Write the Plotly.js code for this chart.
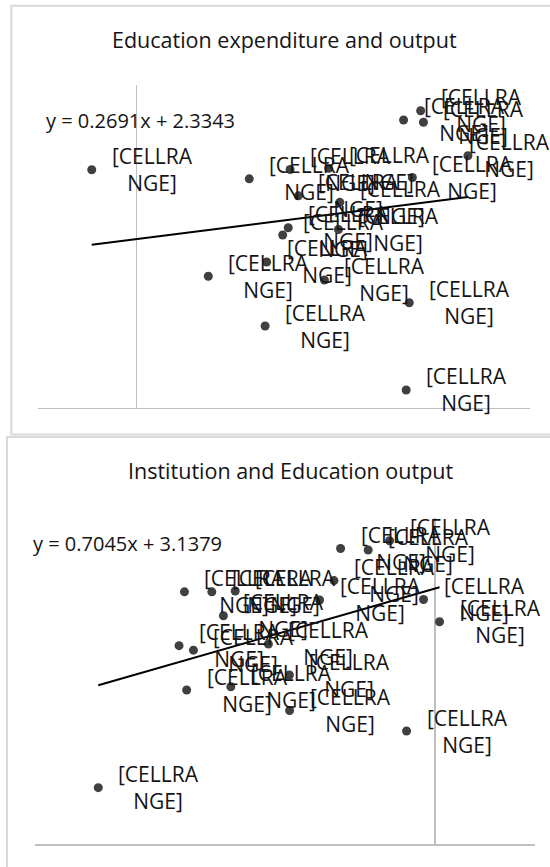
<!DOCTYPE html>
<html><head><meta charset="utf-8">
<script src="https://cdn.plot.ly/plotly-3.0.1.min.js"></script>
<style>html,body{margin:0;padding:0;background:#fff}#chart{width:550px;height:867px}</style>
</head><body><div id="chart"></div>
<script>
// ---------- Data ----------
const title1 = 'Education expenditure and output';
const exp1X = [-0.292, 0.731, 0.996, 1.247, 1.050, 1.319, 1.733, 1.844, 1.862, 1.790,
               2.151, 0.984, 0.948, 1.310, 0.844, 0.465, 1.219, 1.770, 0.834, 1.750];
const exp1Y = [3.291, 3.166, 3.295, 3.312, 2.931, 2.841, 3.980, 4.108, 3.949, 3.184,
               3.486, 2.489, 2.389, 2.465, 2.016, 1.818, 1.767, 1.452, 1.130, 0.245];
const trend1 = {slope: 0.2691, intercept: 2.3343};

const title2 = 'Institution and Education output';
const inst2X = [-0.472, -0.334, -0.227, -0.505, -1.253, -1.116, -0.999, -0.577, -0.057, 0.023,
                -1.058, -1.280, -1.208, -0.833, -0.728, -1.242, -1.021, -0.727, -0.142, -1.684];
const inst2Y = [3.629, 3.611, 3.725, 3.236, 3.098, 3.098, 3.108, 2.998, 3.004, 2.731,
                2.804, 2.437, 2.382, 2.458, 2.077, 1.893, 1.933, 1.642, 1.390, 0.695];
const trend2 = {slope: 0.7045, intercept: 3.1379};

const pointLabel = '[CELLRA<br>NGE]';

// ---------- Layout geometry (pixels) ----------
const W = 550, H = 867;
const px = v => v / W, py = v => 1 - v / H;
const plot1 = {x0: 38.3, x1: 530, y0: 85, y1: 407.7, xr: [-0.639, 2.554], yr: [0, 4.464]};
const plot2 = {x0: 35.1, x1: 534.9, y0: 518.3, y1: 844.3, xr: [-2, 0.5], yr: [0, 4]};

const FONT = '"Open Sans", "Liberation Sans", sans-serif';
const textColor = '#141414';

function toPx(p, x) { return p.x0 + (x - p.xr[0]) / (p.xr[1] - p.xr[0]) * (p.x1 - p.x0); }

function trendTrace(xs, t, xa, ya) {
  const xmin = Math.min(...xs), xmax = Math.max(...xs);
  return {x: [xmin, xmax], y: [t.slope * xmin + t.intercept, t.slope * xmax + t.intercept],
          mode: 'lines', line: {color: '#000', width: 2}, xaxis: xa, yaxis: ya,
          hoverinfo: 'skip', showlegend: false};
}
function pointTrace(xs, ys, xa, ya) {
  return {x: xs, y: ys, mode: 'markers', type: 'scatter', xaxis: xa, yaxis: ya,
          marker: {color: '#404040', size: 9}, showlegend: false};
}
function labelAnns(xs, ys, xref, yref, p) {
  const labelW = 80, rightLimit = 547;
  return xs.map((x, i) => {
    const ppx = toPx(p, x);
    const shift = Math.min(18, rightLimit - labelW - ppx);
    return {x: x, y: ys[i], xref: xref, yref: yref, text: pointLabel, showarrow: false,
            xanchor: 'left', yanchor: 'middle', xshift: shift, align: 'center',
            font: {family: FONT, size: 21, color: textColor}};
  });
}
function fmt(t) { return 'y = ' + t.slope.toFixed(4) + 'x + ' + t.intercept.toFixed(4); }

const data = [
  trendTrace(exp1X, trend1, 'x', 'y'),
  pointTrace(exp1X, exp1Y, 'x', 'y'),
  trendTrace(inst2X, trend2, 'x2', 'y2'),
  pointTrace(inst2X, inst2Y, 'x2', 'y2')
];

function axis(dom, range, isX) {
  return {domain: dom, range: range, showgrid: false, showticklabels: false, ticks: '',
          zeroline: isX, zerolinecolor: '#bfbfbf', zerolinewidth: 1.5,
          showline: isX, linecolor: '#bfbfbf', linewidth: 1.5, fixedrange: true};
}

const annotations = [
  {text: title1, x: px(284), y: py(40), xref: 'paper', yref: 'paper', showarrow: false,
   xanchor: 'center', yanchor: 'middle', font: {family: FONT, size: 21.5, color: textColor}},
  {text: title2, x: px(290), y: py(470), xref: 'paper', yref: 'paper', showarrow: false,
   xanchor: 'center', yanchor: 'middle', font: {family: FONT, size: 21.5, color: textColor}},
  {text: fmt(trend1), x: px(44), y: py(120), xref: 'paper', yref: 'paper', showarrow: false,
   xanchor: 'left', yanchor: 'middle', font: {family: FONT, size: 20, color: textColor}},
  {text: fmt(trend2), x: px(30.5), y: py(543.3), xref: 'paper', yref: 'paper', showarrow: false,
   xanchor: 'left', yanchor: 'middle', font: {family: FONT, size: 20, color: textColor}},
  ...labelAnns(exp1X, exp1Y, 'x', 'y', plot1),
  ...labelAnns(inst2X, inst2Y, 'x2', 'y2', plot2)
];

const layout = {
  width: W, height: H, margin: {l: 0, r: 0, t: 0, b: 0},
  paper_bgcolor: '#fff', plot_bgcolor: 'rgba(0,0,0,0)', showlegend: false,
  xaxis: axis([px(plot1.x0), px(plot1.x1)], plot1.xr, true),
  yaxis: Object.assign(axis([py(plot1.y1), py(plot1.y0)], plot1.yr, false), {anchor: 'x'}),
  xaxis2: Object.assign(axis([px(plot2.x0), px(plot2.x1)], plot2.xr, true), {anchor: 'y2'}),
  yaxis2: Object.assign(axis([py(plot2.y1), py(plot2.y0)], plot2.yr, false), {anchor: 'x2'}),
  shapes: [
    {type: 'rect', xref: 'paper', yref: 'paper', x0: px(11.3), x1: px(562), y0: py(5.8), y1: py(434.5),
     line: {color: '#d9d9d9', width: 2}, fillcolor: 'rgba(0,0,0,0)', layer: 'below'},
    {type: 'rect', xref: 'paper', yref: 'paper', x0: px(7), x1: px(562), y0: py(437), y1: py(880),
     line: {color: '#d9d9d9', width: 2}, fillcolor: 'rgba(0,0,0,0)', layer: 'below'}
  ],
  annotations: annotations,
  font: {family: FONT, color: textColor}
};

Plotly.newPlot('chart', data, layout, {displayModeBar: false, staticPlot: true});
</script></body></html>
